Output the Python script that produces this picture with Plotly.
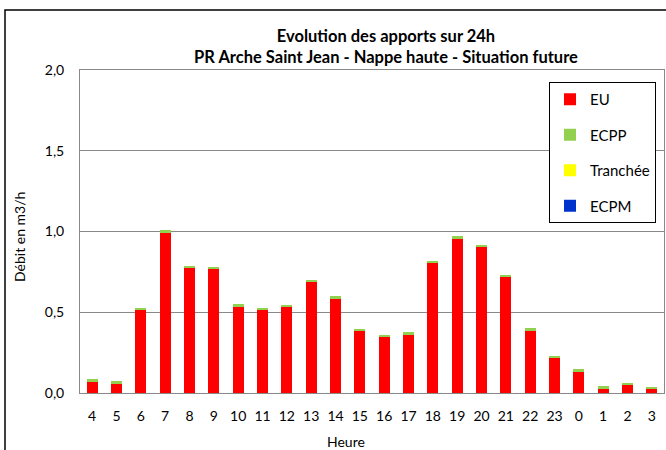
import plotly.graph_objects as go

heures = ["4", "5", "6", "7", "8", "9", "10", "11", "12", "13", "14", "15",
          "16", "17", "18", "19", "20", "21", "22", "23", "0", "1", "2", "3"]
eu = [0.070, 0.058, 0.513, 0.991, 0.771, 0.767, 0.534, 0.513, 0.530, 0.686, 0.583, 0.381,
      0.346, 0.359, 0.804, 0.954, 0.901, 0.717, 0.385, 0.214, 0.132, 0.027, 0.049, 0.023]
ecpp = [0.016] * 24
tranchee = [0.0] * 24
ecpm = [0.0] * 24

series = [
    ("EU", eu, "#FF0000"),
    ("ECPP", ecpp, "#92D050"),
    ("Tranchée", tranchee, "#FFFF00"),
    ("ECPM", ecpm, "#0033CC"),
]

FONT = "Lato, Carlito, Calibri, sans-serif"

fig = go.Figure()
for i, (name, vals, col) in enumerate(series):
    fig.add_trace(go.Bar(x=heures, y=vals, name=name, marker_color=col,
                         marker_line_width=0, legendgroup=f"g{i}"))

W, H = 666, 450
L, R, T, B = 80, 2, 70, 57
pw = W - L - R
ph = H - T - B

def px_x(x):
    return (x - L) / pw

def px_y(y):
    return (H - B - y) / ph

fig.update_layout(
    width=W, height=H,
    margin=dict(l=L, r=R, t=T, b=B, autoexpand=False),
    barmode="stack", bargap=0.55,
    separators=", ",
    paper_bgcolor="white", plot_bgcolor="white",
    font=dict(family=FONT, size=14, color="#000000"),
    title=dict(text="<b>Evolution des apports sur 24h<br>PR Arche Saint Jean - Nappe haute - Situation future</b>",
               x=386 / W, xref="container", xanchor="center",
               y=1 - 42 / H, yref="container", yanchor="middle",
               font=dict(family=FONT, size=16.5, color="#000000")),
    showlegend=True,
    legend=dict(x=px_x(549), y=px_y(82), xanchor="left", yanchor="top",
                bordercolor="#000000", borderwidth=1, bgcolor="white",
                traceorder="grouped", tracegroupgap=13,
                font=dict(family=FONT, size=15)),
    xaxis=dict(showgrid=False, showline=True, linecolor="#898989", linewidth=1,
               mirror=True, ticks="", tickfont=dict(size=14),
               ticklabelstandoff=10),
    yaxis=dict(range=[0, 2.0], dtick=0.5, tickformat=".1f",
               showgrid=True, gridcolor="#898989", gridwidth=1,
               showline=True, linecolor="#898989", linewidth=1, mirror=True,
               ticks="", tickfont=dict(size=14), ticklabelstandoff=12,
               zeroline=False),
    annotations=[
        dict(text="Débit en m3/h", textangle=-90, x=px_x(19), y=px_y(237),
             xref="paper", yref="paper", showarrow=False,
             xanchor="center", yanchor="middle", font=dict(size=14)),
        dict(text="Heure", x=px_x(346), y=px_y(441),
             xref="paper", yref="paper", showarrow=False,
             xanchor="center", yanchor="middle", font=dict(size=14)),
    ],
    shapes=[
        dict(type="rect", xref="paper", yref="paper",
             x0=px_x(5), x1=px_x(690), y0=px_y(470), y1=px_y(10),
             line=dict(color="#000000", width=1.5), fillcolor="rgba(0,0,0,0)",
             layer="below"),
    ],
)

fig.write_html("out.html", config={"displayModeBar": False},
               post_script="document.body.style.margin='0';document.body.style.padding='0';")
